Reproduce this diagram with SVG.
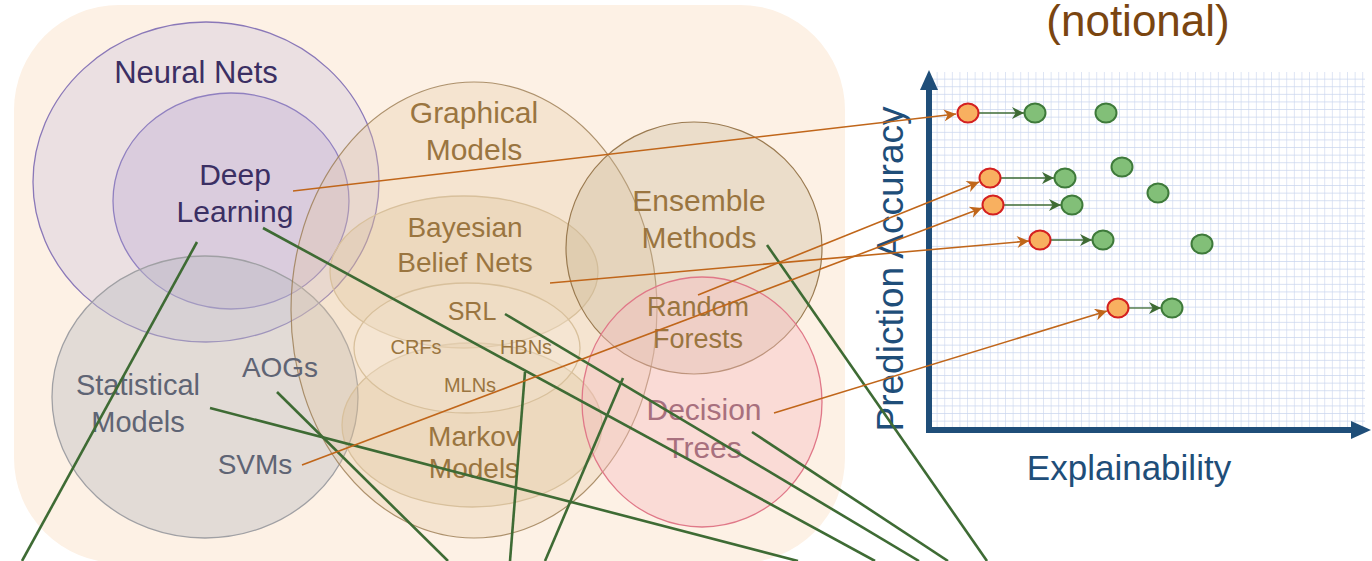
<svg xmlns="http://www.w3.org/2000/svg" width="1372" height="561" viewBox="0 0 1372 561">
<style>
text{font-family:"Liberation Sans",Arial,sans-serif}
.nn{fill:#3b2f63;font-size:30px}
.st{fill:#5f6474;font-size:29px}
.gm{fill:#9a7540;font-size:29px}
.gs{fill:#9a7540;font-size:20px}
.dt{fill:#a8707e;font-size:30px}
.ax{fill:#1f4e79;font-size:36px}
.oc{stroke:#c0661a;stroke-width:1.6;fill:none;marker-end:url(#ao)}
.gc{stroke:#3e6b34;stroke-width:2.6;fill:none}
.ga{stroke:#3e6b34;stroke-width:1.3;fill:none;marker-end:url(#ag)}
.red{fill:#f8b060;stroke:#d42020;stroke-width:2}
.grn{fill:#82bf78;stroke:#3e7a3a;stroke-width:2}
</style>
<defs>
<marker id="ao" markerUnits="userSpaceOnUse" markerWidth="15" markerHeight="12" viewBox="0 0 10 10" refX="10" refY="5" orient="auto">
<path d="M0,0 L10,5 L0,10 L3,5 z" fill="#c0661a"/>
</marker>
<marker id="ag" markerUnits="userSpaceOnUse" markerWidth="14" markerHeight="12" viewBox="0 0 10 10" refX="10" refY="5" orient="auto">
<path d="M0,0 L10,5 L0,10 L3,5 z" fill="#3e6b34"/>
</marker>
<pattern id="grid" patternUnits="userSpaceOnUse" width="7.6" height="7.6" x="930" y="72">
<path d="M7.6,0 V7.6 M0,7.6 H7.6" stroke="#c9d5ee" stroke-width="1.2" fill="none"/>
</pattern>
</defs>

<rect id="background" x="14" y="5" width="831" height="558" rx="105" ry="105" fill="#fdf1e5"/>

<g id="neural-nets">
<ellipse cx="206" cy="182" rx="173" ry="160" fill="#c8bedc" fill-opacity="0.32" stroke="#8a78b8" stroke-width="1.3"/>
<text class="nn" x="196" y="83" text-anchor="middle" style="font-size:31px">Neural Nets</text>
</g>
<g id="deep-learning">
<ellipse cx="231" cy="201" rx="118" ry="108" fill="#b4a0d2" fill-opacity="0.3" stroke="#9080c0" stroke-width="1.3"/>
<text class="nn" x="235" y="185" text-anchor="middle">Deep</text>
<text class="nn" x="235" y="222" text-anchor="middle">Learning</text>
</g>
<g id="statistical-models">
<ellipse cx="205" cy="397" rx="153" ry="141" fill="#bcbcc2" fill-opacity="0.42" stroke="#a0a0a4" stroke-width="1.3"/>
<text class="st" x="138" y="395" text-anchor="middle">Statistical</text>
<text class="st" x="138" y="432" text-anchor="middle">Models</text>
</g>
<g id="graphical-models">
<ellipse cx="474" cy="310" rx="183" ry="228" fill="#e6c8a0" fill-opacity="0.3" stroke="#9a7a50" stroke-width="1.2" stroke-opacity="0.8"/>
<text class="gm" x="474" y="123" text-anchor="middle" style="font-size:30px">Graphical</text>
<text class="gm" x="474" y="160" text-anchor="middle" style="font-size:30px">Models</text>
</g>
<g id="bayesian-belief-nets">
<ellipse cx="464" cy="272" rx="134" ry="76" fill="#d9b888" fill-opacity="0.25" stroke="#d8c09c" stroke-width="1.3"/>
<text class="gm" x="465" y="237" text-anchor="middle" style="font-size:28px">Bayesian</text>
<text class="gm" x="465" y="272" text-anchor="middle" style="font-size:28px">Belief Nets</text>
</g>
<g id="markov-models">
<ellipse cx="472" cy="425" rx="130" ry="82" fill="#d9b888" fill-opacity="0.25" stroke="#d8c09c" stroke-width="1.3"/>
<text class="gm" x="474" y="446" text-anchor="middle" style="font-size:28px">Markov</text>
<text class="gm" x="474" y="478" text-anchor="middle" style="font-size:28px">Models</text>
</g>
<g id="srl">
<ellipse cx="467" cy="348" rx="113" ry="65" fill="#f6e8d6" fill-opacity="0.3" stroke="#d8c09c" stroke-width="1.3"/>
<text class="gm" x="472" y="320" text-anchor="middle" style="font-size:25px">SRL</text>
<text class="gs" x="416" y="354" text-anchor="middle">CRFs</text>
<text class="gs" x="526" y="354" text-anchor="middle">HBNs</text>
<text class="gs" x="470" y="392" text-anchor="middle">MLNs</text>
</g>
<g id="ensemble-methods">
<ellipse cx="694" cy="248" rx="128" ry="126" fill="#c8b898" fill-opacity="0.35" stroke="#9a7a50" stroke-width="1.2"/>
<text class="gm" x="699" y="211" text-anchor="middle" style="font-size:30px">Ensemble</text>
<text class="gm" x="699" y="248" text-anchor="middle" style="font-size:30px">Methods</text>
</g>
<g id="decision-trees">
<ellipse cx="702" cy="402" rx="120" ry="125" fill="#f4bcc0" fill-opacity="0.4" stroke="#e07888" stroke-width="1.3"/>
<text class="gm" x="698" y="316" text-anchor="middle" style="font-size:27px">Random</text>
<text class="gm" x="698" y="348" text-anchor="middle" style="font-size:27px">Forests</text>
<text class="dt" x="704" y="420" text-anchor="middle">Decision</text>
<text class="dt" x="704" y="458" text-anchor="middle">Trees</text>
</g>
<g id="other-labels">
<text class="st" x="280" y="377" text-anchor="middle" style="font-size:28px">AOGs</text>
<text class="st" x="255" y="474" text-anchor="middle" style="font-size:28px">SVMs</text>
</g>

<g id="chart">
<rect x="930" y="72" width="435" height="356" fill="url(#grid)"/>
<text x="1138" y="36" text-anchor="middle" style="font-size:44px;fill:#7a4510">(notional)</text>
<text class="ax" x="0" y="0" transform="translate(903,269) rotate(-90)" text-anchor="middle" style="font-size:37px">Prediction Accuracy</text>
<text class="ax" x="1129" y="480" text-anchor="middle" style="font-size:35px">Explainability</text>
<path d="M929,433 V86" stroke="#1f4e79" stroke-width="6" fill="none"/>
<path d="M920,90 L929,70 L938,90 z" fill="#1f4e79"/>
<path d="M926,430 H1355" stroke="#1f4e79" stroke-width="6" fill="none"/>
<path d="M1351,421 L1371,430 L1351,439 z" fill="#1f4e79"/>
</g>

<g id="connectors">
<path class="gc" d="M197,242 L22,561"/>
<path class="gc" d="M263,228 L875,561"/>
<path class="gc" d="M505,314 L919,561"/>
<path class="gc" d="M752,432 L948,561"/>
<path class="gc" d="M767,245 L987,561"/>
<path class="gc" d="M210,408 L798,561"/>
<path class="gc" d="M277,392 L448,561"/>
<path class="gc" d="M525,372 L510,561"/>
<path class="gc" d="M623,378 L545,561"/>
<path class="oc" d="M293,191 L956,114"/>
<path class="oc" d="M550,283 L1029,241"/>
<path class="oc" d="M698,295 L979,182"/>
<path class="oc" d="M302,465 L982,208"/>
<path class="oc" d="M774,413 L1107,311"/>
<path class="ga" d="M979,113 L1024,113"/>
<path class="ga" d="M1001,178 L1054,178"/>
<path class="ga" d="M1004,205 L1061,205"/>
<path class="ga" d="M1051,240 L1092,240"/>
<path class="ga" d="M1129,308 L1161,308"/>
</g>

<g id="dots">
<ellipse class="red" cx="968" cy="113" rx="10.5" ry="9.5"/>
<ellipse class="grn" cx="1035" cy="113" rx="10.5" ry="9.5"/>
<ellipse class="grn" cx="1106" cy="113" rx="10.5" ry="9.5"/>
<ellipse class="red" cx="990" cy="178" rx="10.5" ry="9.5"/>
<ellipse class="grn" cx="1065" cy="178" rx="10.5" ry="9.5"/>
<ellipse class="grn" cx="1122" cy="167" rx="10.5" ry="9.5"/>
<ellipse class="red" cx="993" cy="205" rx="10.5" ry="9.5"/>
<ellipse class="grn" cx="1072" cy="205" rx="10.5" ry="9.5"/>
<ellipse class="grn" cx="1158" cy="193" rx="10.5" ry="9.5"/>
<ellipse class="red" cx="1040" cy="240" rx="10.5" ry="9.5"/>
<ellipse class="grn" cx="1103" cy="240" rx="10.5" ry="9.5"/>
<ellipse class="grn" cx="1202" cy="244" rx="10.5" ry="9.5"/>
<ellipse class="red" cx="1118" cy="308" rx="10.5" ry="9.5"/>
<ellipse class="grn" cx="1172" cy="308" rx="10.5" ry="9.5"/>
</g>
</svg>
